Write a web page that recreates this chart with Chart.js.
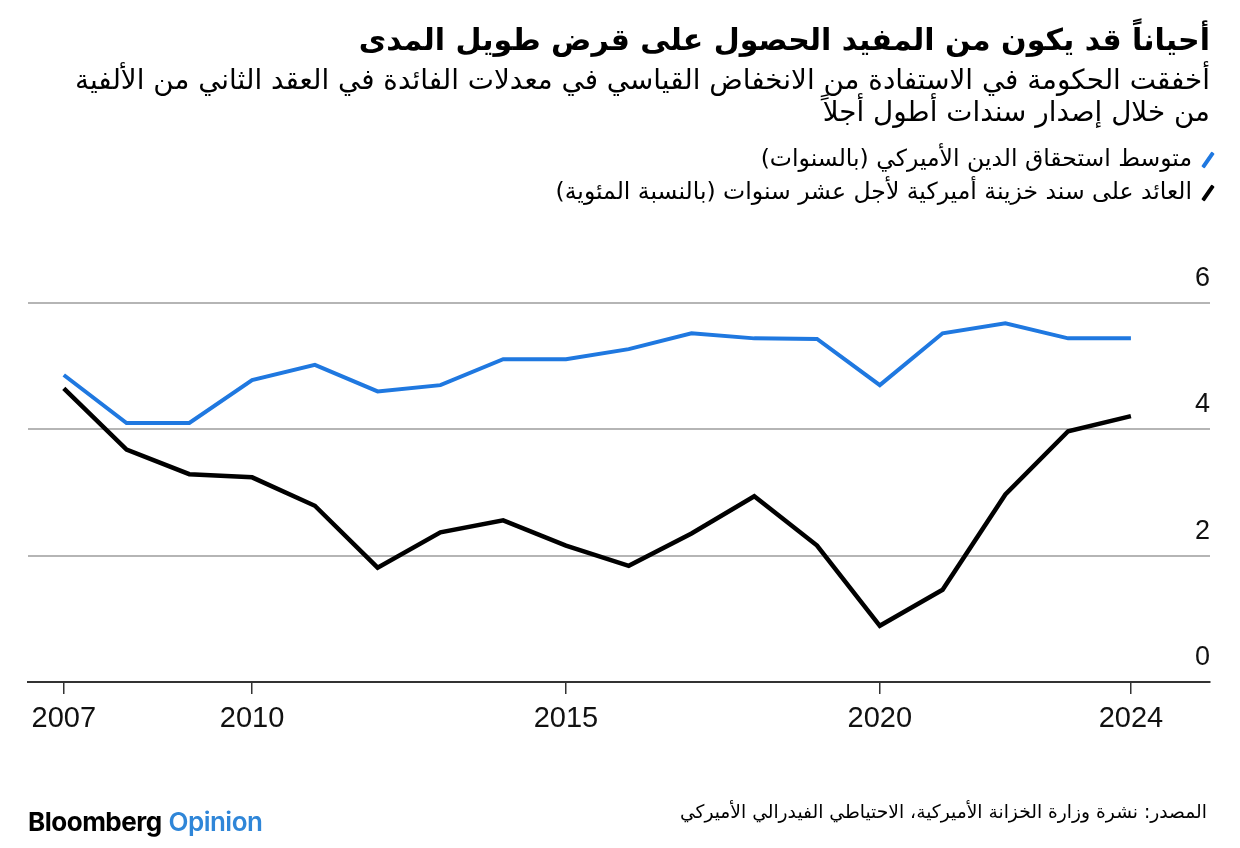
<!DOCTYPE html>
<html><head><meta charset="utf-8">
<script src="https://cdn.jsdelivr.net/npm/chart.js@4/dist/chart.umd.min.js"></script>
<style>
html,body{margin:0;padding:0;background:#fff;}
#wrap{position:relative;width:1240px;height:848px;overflow:hidden;background:#fff;}
canvas{position:absolute;left:0;top:0;}
.ar{position:absolute;right:30px;direction:rtl;text-align:right;white-space:nowrap;font-family:"DejaVu Sans",sans-serif;color:#000;}
.lg{display:inline-block;width:4px;height:18px;margin-left:14px;transform:rotate(35deg);vertical-align:middle;border-radius:1px;}
#brand{position:absolute;left:28px;top:806px;font-family:"Inter","Liberation Sans",sans-serif;font-size:26px;letter-spacing:-0.5px;white-space:nowrap;}
</style></head>
<body><div id="wrap">
<canvas id="c" width="1240" height="848"></canvas>
<div class="ar" id="title" style="top:20px;font-size:30px;font-weight:bold;line-height:40px;"></div>
<div class="ar" id="sub" style="top:64px;font-size:27.8px;line-height:32px;"></div>
<div class="ar" id="leg" style="top:142px;font-size:23.5px;line-height:33px;"></div>
<div class="ar" id="src" style="top:799px;right:33px;font-size:18.7px;line-height:26px;"></div>
<div id="brand"><b style="color:#000;font-weight:700;">Bloomberg</b> <span style="color:#2f86d8;font-weight:600;">Opinion</span></div>
</div>
<script>
const years = [2007,2008,2009,2010,2011,2012,2013,2014,2015,2016,2017,2018,2019,2020,2021,2022,2023,2024];
const avgMaturity = [4.86,4.10,4.10,4.78,5.02,4.60,4.70,5.11,5.11,5.27,5.52,5.44,5.43,4.70,5.52,5.68,5.44,5.44];
const tenYearYield = [4.65,3.68,3.29,3.24,2.79,1.81,2.37,2.56,2.16,1.84,2.35,2.94,2.16,0.89,1.46,2.97,3.97,4.21];
const xTickYears = [2007,2010,2015,2020,2024];
const yTickValues = [0,2,4,6];

const titleText = "أحياناً قد يكون من المفيد الحصول على قرض طويل المدى";
const subLines = ["أخفقت الحكومة في الاستفادة من الانخفاض القياسي في معدلات الفائدة في العقد الثاني من الألفية","من خلال إصدار سندات أطول أجلاً"];
const legendLabels = ["متوسط استحقاق الدين الأميركي (بالسنوات)","العائد على سند خزينة أميركية لأجل عشر سنوات (بالنسبة المئوية)"];
const legendColors = ["#1f78e0","#000000"];
const sourceText = "المصدر: نشرة وزارة الخزانة الأميركية، الاحتياطي الفيدرالي الأميركي";

document.getElementById('title').textContent = titleText;
document.getElementById('sub').innerHTML = subLines.map(s=>'<div>'+s+'</div>').join('');
document.getElementById('leg').innerHTML = legendLabels.map((s,i)=>'<div><span class="lg" style="background:'+legendColors[i]+'"></span>'+s+'</div>').join('');
document.getElementById('src').textContent = sourceText;

const yLabelPlugin = {
  id:'yLabels',
  afterDraw(chart){
    const ctx = chart.ctx, y = chart.scales.y, area = chart.chartArea;
    ctx.save();
    ctx.font = '27px "Liberation Sans", Arial, sans-serif';
    ctx.fillStyle = '#111';
    ctx.textAlign = 'right';
    ctx.textBaseline = 'alphabetic';
    yTickValues.forEach(v=>{
      ctx.fillText(String(v), area.right, y.getPixelForValue(v) - 17);
    });
    ctx.restore();
  }
};

new Chart(document.getElementById('c'), {
  type:'line',
  data:{
    datasets:[
      {label:legendLabels[0], data:years.map((yr,i)=>({x:yr,y:avgMaturity[i]})), borderColor:legendColors[0], borderWidth:4, pointRadius:0, tension:0, borderJoinStyle:'miter'},
      {label:legendLabels[1], data:years.map((yr,i)=>({x:yr,y:tenYearYield[i]})), borderColor:legendColors[1], borderWidth:4.5, pointRadius:0, tension:0, borderJoinStyle:'miter'}
    ]
  },
  options:{
    responsive:false, animation:false,
    layout:{padding:{top:303,left:28,right:30,bottom:0}},
    plugins:{legend:{display:false},tooltip:{enabled:false}},
    scales:{
      x:{
        type:'linear', min:2006.43, max:2025.26,
        afterBuildTicks(s){ s.ticks = xTickYears.map(v=>({value:v})); },
        afterFit(s){ s.height = 166; },
        grid:{display:true, drawOnChartArea:false, drawTicks:true, tickLength:12, color:'#333', lineWidth:1.5},
        border:{display:true, color:'#333', width:2},
        ticks:{font:{family:'"Liberation Sans", Arial, sans-serif', size:29}, color:'#111', padding:8, maxRotation:0, autoSkip:false, callback:v=>String(v)}
      },
      y:{
        min:0, max:6,
        afterBuildTicks(s){ s.ticks = yTickValues.map(v=>({value:v})); },
        afterFit(s){ s.width = 0; },
        ticks:{display:false},
        grid:{drawTicks:false, color:ctx=>ctx.tick && ctx.tick.value===0 ? '#333' : '#b5b5b5', lineWidth:2},
        border:{display:false}
      }
    }
  },
  plugins:[yLabelPlugin]
});
</script>
</body></html>
